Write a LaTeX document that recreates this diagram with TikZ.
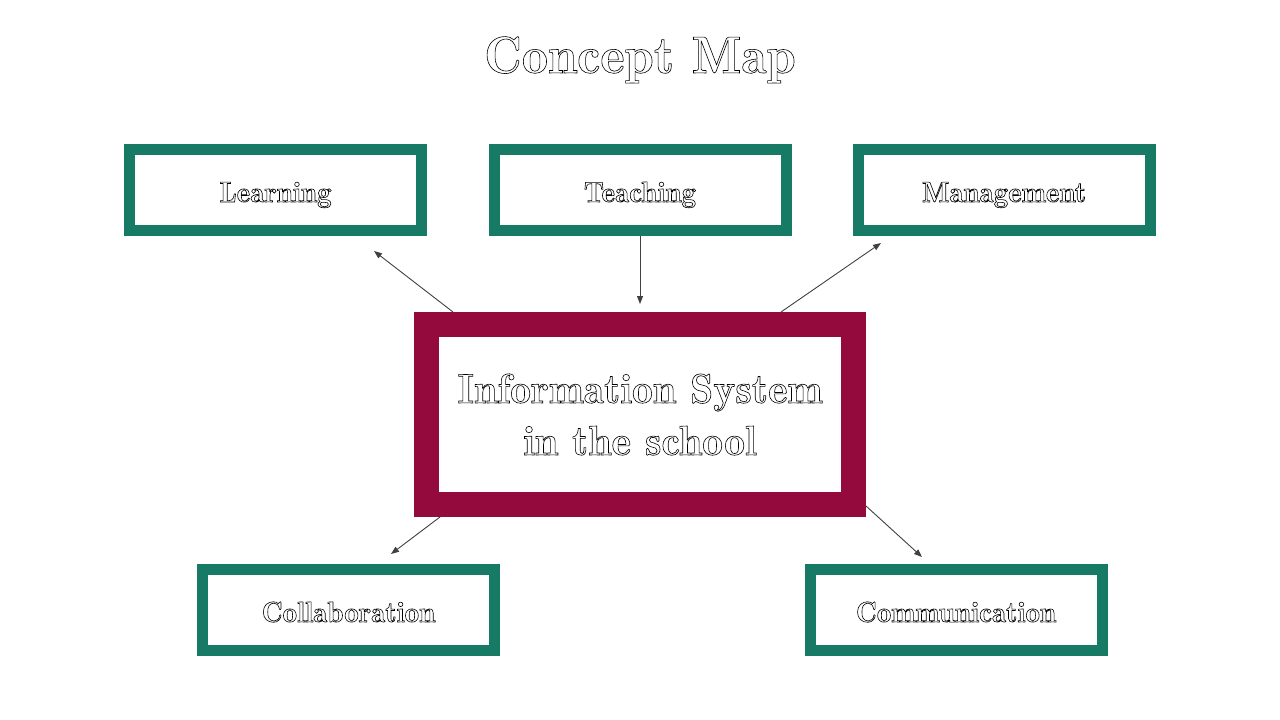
\documentclass[tikz,border=0pt]{standalone}
\usepackage{tikz}
\usetikzlibrary{arrows.meta,positioning,calc}
\usepackage{xcolor}
\definecolor{boxgreen}{HTML}{177A64}
\definecolor{boxmaroon}{HTML}{940A3D}
\definecolor{arrgray}{HTML}{404040}
% outlined lettering (stroke only)
\newcommand{\outl}[1]{\special{pdf:literal 1 Tr 0.6 w}#1\special{pdf:literal 0 Tr}}

\begin{document}
\begin{tikzpicture}[
  x=1pt, y=-1pt,
  topic/.style={draw=boxgreen, line width=11pt, fill=white, minimum width=292pt, minimum height=81pt, align=center, text height=24pt, text depth=0pt, font=\fontsize{29}{34}\fontseries{b}\selectfont},
  core/.style={draw=boxmaroon, line width=25pt, fill=white, minimum width=427pt, minimum height=180pt, align=center, font=\fontsize{41.8}{52}\fontseries{b}\selectfont},
  arr/.style={-{Triangle[length=8pt,width=6pt]}, line width=0.9pt, draw=arrgray},
]
  \useasboundingbox (0,0) rectangle (1280,720);

  % Title
  \node[anchor=base, font=\fontsize{52.3}{60}\fontseries{b}\selectfont] (title) at (640,73) {\outl{Concept Map}};

  % Centre
  \node[core] (ctr) at (640,414.5) {\outl{Information System}\\\outl{in the school}};

  % Top row
  \node[topic] (learn) at (275.5,190) {\outl{Learning}};
  \node[topic] (teach) at (640,190) {\outl{Teaching}};
  \node[topic] (mgmt) at (1004,190) {\outl{Management}};

  % Bottom row
  \node[topic] (collab) at (348.5,610) {\outl{Collaboration}};
  \node[topic] (comm) at (956,610) {\outl{Communication}};

  % Connectors
  \draw[arr] ($(ctr.north west)+(39,0)$) -- ($(learn.south)+(98.5,15)$);
  \draw[arr] (teach.south) -- ($(ctr.north)+(0,-8)$);
  \draw[arr] ($(ctr.north east)+(-85,0)$) -- ($(mgmt.south)+(-123,7)$);
  \draw[arr] ($(ctr.south west)+(26,0)$) -- ($(collab.north)+(42.5,-10)$);
  \draw[arr] ($(ctr.south east)+(0,-11)$) -- ($(comm.north)+(-34,-7)$);
\end{tikzpicture}
\end{document}
